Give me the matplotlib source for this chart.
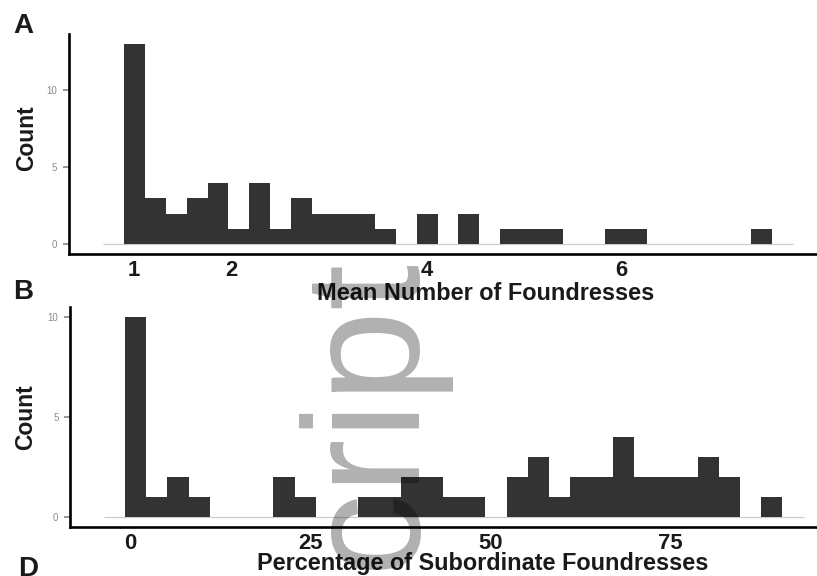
import numpy as np
import matplotlib
matplotlib.use("Agg")
import matplotlib.pyplot as plt

# Panel A: number of colonies per bin of mean foundress number
foundress_counts = [13, 3, 2, 3, 4, 1, 4, 1, 3, 2, 2, 2, 1, 0, 2, 0,
                    2, 0, 1, 1, 1, 0, 0, 1, 1, 0, 0, 0, 0, 0, 1]
foundress_bin_start = 0.898
foundress_bin_width = 0.2145
foundress_ticks = [1, 2, 4, 6]

# Panel B: number of colonies per bin of subordinate percentage
subordinate_counts = [10, 1, 2, 1, 0, 0, 0, 2, 1, 0, 0, 1, 1, 2, 2, 1,
                      1, 0, 2, 3, 1, 2, 2, 4, 2, 2, 2, 3, 2, 0, 1]
subordinate_bin_start = -0.66
subordinate_bin_width = 2.94
subordinate_ticks = [0, 25, 50, 75]

count_ticks = [0, 5, 10]

plt.rcParams["font.family"] = ["Liberation Sans", "DejaVu Sans"]

W, H = 817, 576
fig = plt.figure(figsize=(W / 100, H / 100), dpi=100)


def px_axes(left, top, right, bottom):
    return fig.add_axes([left / W, 1 - bottom / H, (right - left) / W, (bottom - top) / H])


def hist_panel(ax, counts, start, width, xlim, ylim, xticks, xlabel,
               xlabel_pos, ylabel_pos, xpad):
    counts = np.asarray(counts, dtype=float)
    edges = start + width * np.arange(len(counts) + 1)
    ax.hlines(0, edges[0] - width, edges[-1] + width, color="#cdcdcd",
              lw=0.9, zorder=1)
    ax.stairs(counts, edges, fill=True, color="#333333", lw=0, zorder=2)

    ax.set_xlim(*xlim)
    ax.set_ylim(*ylim)
    for side in ("top", "right"):
        ax.spines[side].set_visible(False)
    for side in ("left", "bottom"):
        ax.spines[side].set_linewidth(1.9)
        ax.spines[side].set_color("black")

    ax.set_xticks(xticks, labels=[str(t) for t in xticks], fontweight="bold")
    ax.tick_params(axis="x", length=0, pad=xpad, labelsize=15.8, labelcolor="#1a1a1a")
    ax.set_yticks(count_ticks, labels=[str(t) for t in count_ticks])
    ax.tick_params(axis="y", length=4, width=1.1, color="#7a7a7a",
                   labelcolor="#8a8a8a", labelsize=7, pad=4.3)

    ax.set_xlabel(xlabel, fontsize=16.9, fontweight="bold", va="baseline",
                  color="#1a1a1a")
    ax.xaxis.set_label_coords(*xlabel_pos)
    ax.set_ylabel("Count", fontsize=16.5, fontweight="bold", va="baseline",
                  color="#1a1a1a")
    ax.yaxis.set_label_coords(*ylabel_pos)


axA = px_axes(68.7, 34.3, 826, 254.3)
hist_panel(axA, foundress_counts, foundress_bin_start, foundress_bin_width,
           (0.331, 8.102), (-0.65, 13.65), foundress_ticks,
           "Mean Number of Foundresses", (0.551, -0.2077), (-0.0475, 0.526), 4.0)

axB = px_axes(70, 306.7, 838, 527)
hist_panel(axB, subordinate_counts, subordinate_bin_start, subordinate_bin_width,
           (-8.286, 98.2), (-0.5, 10.5), subordinate_ticks,
           "Percentage of Subordinate Foundresses", (0.538, -0.195), (-0.049, 0.5), 4.3)

# Panel letters
for letter, x, y in (("A", 13, 33), ("B", 13, 299), ("D", 18, 576)):
    fig.text(x / W, 1 - y / H, letter, fontsize=20, fontweight="bold",
             va="baseline", ha="left", color="#1a1a1a")

# Vertical manuscript watermark running across both panels
fig.text(407 / W, 1 - 250 / H, "Manuscript", fontsize=119, rotation=90,
         rotation_mode="anchor", ha="right", va="baseline",
         color=(0, 0, 0, 0.31), zorder=10)

fig.savefig("out.png", dpi=100)
